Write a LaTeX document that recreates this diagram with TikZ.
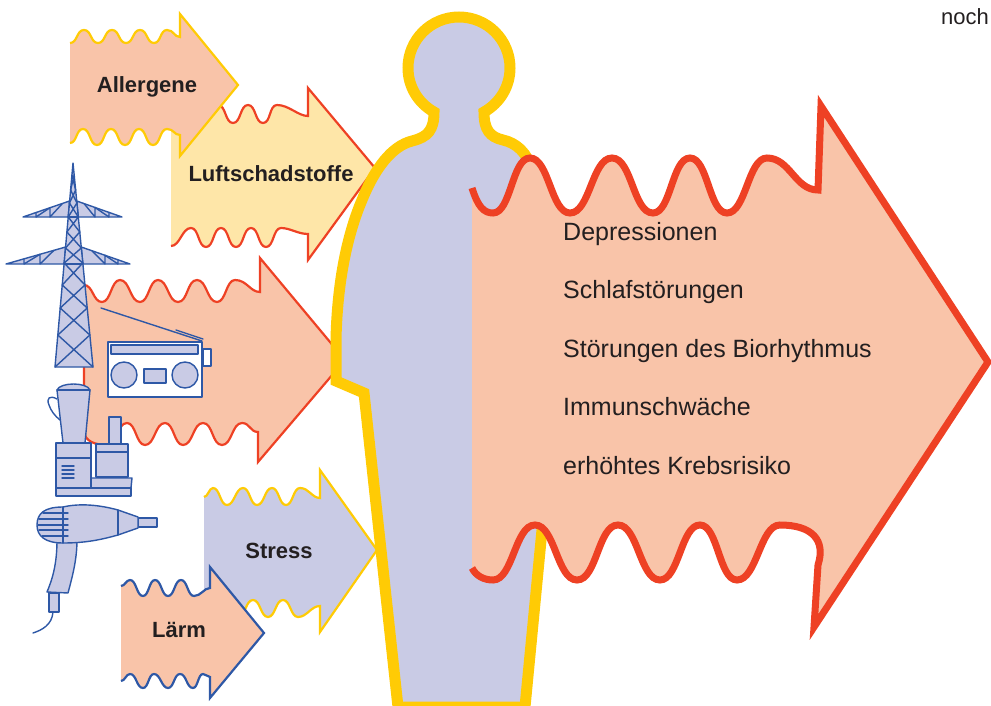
\documentclass[tikz,border=0pt]{standalone}
\usepackage{fontspec}
\setmainfont{Liberation Sans}
\definecolor{salmon}{HTML}{F9C4A9}
\definecolor{paleyellow}{HTML}{FEE6A8}
\definecolor{lavender}{HTML}{C9CBE5}
\definecolor{sunyellow}{HTML}{FFCB05}
\definecolor{signalred}{HTML}{EE4124}
\definecolor{iconblue}{HTML}{2E58A6}
\definecolor{ink}{HTML}{231F20}
\begin{document}
\begin{tikzpicture}[x=1pt,y=-1pt,
  thin outline/.style={line width=2.2pt, line join=miter, miter limit=10},
  thick outline/.style={line width=7pt, line join=miter, miter limit=10},
  body outline/.style={line width=11pt, line join=miter, miter limit=10},
  icon/.style={draw=iconblue, fill=lavender, line width=1.4pt, line join=round},
  iconline/.style={draw=iconblue, line width=1.4pt, line cap=round},
  cause/.style={font=\bfseries\fontsize{22}{26}\selectfont, text=ink, inner sep=0pt, anchor=base},
  effect/.style={font=\fontsize{25}{30}\selectfont, text=ink, inner sep=0pt, anchor=base west}]
\useasboundingbox (0,0) rectangle (991,706);

% ---- Luftschadstoffe (open left edge: fill closes it, stroke does not)
\path[fill=paleyellow, draw=signalred, thin outline]
  (171,123) .. controls +(9,0) and +(-9,0) .. (188,105)
  .. controls +(8,0) and +(-8,0) .. (203,123)
  .. controls +(8,0) and +(-8,0) .. (218,105)
  .. controls +(8,0) and +(-8,0) .. (233,123)
  .. controls +(8,0) and +(-8,0) .. (248,105)
  .. controls +(8,0) and +(-8,0) .. (263,123)
  .. controls +(8,0) and +(-8,0) .. (277,105)
  .. controls +(12,0) and +(-10,0) .. (308,116)
  -- (308,88) -- (375,168) -- (308,260) -- (308,234)
  .. controls +(-10,0) and +(9,0) .. (281,228)
  .. controls +(-8,0) and +(8,0) .. (266,247)
  .. controls +(-8,0) and +(8,0) .. (251,228)
  .. controls +(-8,0) and +(8,0) .. (236,247)
  .. controls +(-8,0) and +(8,0) .. (221,228)
  .. controls +(-8,0) and +(8,0) .. (206,247)
  .. controls +(-8,0) and +(8,0) .. (191,228)
  .. controls +(-9,0) and +(9,0) .. (171,246);
\node[cause] (luft) at (271,182) {Luftschadstoffe};

% ---- Allergene
\path[fill=salmon, draw=sunyellow, thin outline]
  (70,43) .. controls +(7.5,0) and +(-7.5,0) .. (84,30)
  .. controls +(7.5,0) and +(-7.5,0) .. (98,43)
  .. controls +(7.5,0) and +(-7.5,0) .. (112,30)
  .. controls +(7.5,0) and +(-7.5,0) .. (126,43)
  .. controls +(7.5,0) and +(-7.5,0) .. (140,30)
  .. controls +(7.5,0) and +(-7.5,0) .. (154,43)
  .. controls +(7,0) and +(-7,0) .. (167,30)
  .. controls +(7,0) and +(-6,0) .. (180,37)
  -- (180,14) -- (238,85) -- (180,156) -- (180,135)
  .. controls +(-6,0) and +(7,0) .. (167,129)
  .. controls +(-7.5,0) and +(7.5,0) .. (153,145)
  .. controls +(-7.5,0) and +(7.5,0) .. (139,129)
  .. controls +(-7.5,0) and +(7.5,0) .. (125,145)
  .. controls +(-7.5,0) and +(7.5,0) .. (111,129)
  .. controls +(-7.5,0) and +(7.5,0) .. (97,145)
  .. controls +(-7.5,0) and +(7.5,0) .. (83,129)
  .. controls +(-7,0) and +(7,0) .. (70,143);
\node[cause] (allergene) at (147,93) {Allergene};

% ---- electrosmog arrow (closed, with stroked left edge)
\path[fill=salmon, draw=signalred, thin outline]
  (84,285) .. controls +(9,0) and +(-9,0) .. (102,302)
  .. controls +(9,0) and +(-9,0) .. (120,280)
  .. controls +(10,0) and +(-10,0) .. (140,302)
  .. controls +(9,0) and +(-9,0) .. (158,280)
  .. controls +(10,0) and +(-10,0) .. (178,302)
  .. controls +(10,0) and +(-10,0) .. (197,280)
  .. controls +(10,0) and +(-10,0) .. (217,302)
  .. controls +(9,0) and +(-9,0) .. (235,280)
  .. controls +(12,0) and +(-10,0) .. (260,292)
  -- (260,258) -- (345,360) -- (258,462) -- (258,432)
  .. controls +(-8,0) and +(8,0) .. (242,423)
  .. controls +(-10,0) and +(10,0) .. (222,445)
  .. controls +(-10,0) and +(10,0) .. (203,423)
  .. controls +(-10,0) and +(10,0) .. (183,445)
  .. controls +(-9,0) and +(9,0) .. (165,423)
  .. controls +(-10,0) and +(10,0) .. (145,445)
  .. controls +(-9,0) and +(9,0) .. (127,423)
  .. controls +(-10,0) and +(10,0) .. (108,445)
  .. controls (96,445) and (84,442) .. (84,430) -- cycle;

% ---- radio
\draw[iconline] (101,308) -- (202,341);
\draw[iconline] (176,330) -- (203,339);
\draw[icon, fill=white] (108,342) rectangle (202,397);
\draw[icon] (111,345) rectangle (198,354);
\draw[icon] (124,375) circle[radius=13];
\draw[icon] (185,375) circle[radius=13];
\draw[icon] (144,369) rectangle (166,383);
\draw[icon, fill=white] (203,349) rectangle (211,366);

% ---- pylon
\draw[icon] (69.6,201) -- (23,217) -- (68.2,217) -- cycle;
\draw[icon] (76.7,201) -- (122,217) -- (78.3,217) -- cycle;
\draw[icon] (65.6,247) -- (6,264) -- (64.1,264) -- cycle;
\draw[icon] (81.2,247) -- (130,264) -- (82.9,264) -- cycle;
\draw[iconline] (50,217) -- (50,207.7) (36,217) -- (36,212.5)
  (50,217) -- (62,204) (36,217) -- (50,207.7)
  (95,217) -- (95,207.5) (109,217) -- (109,212.4)
  (95,217) -- (84,203.5) (109,217) -- (95,207.5);
\draw[iconline] (40,264) -- (40,254.3) (24,264) -- (24,258.9)
  (40,264) -- (54,250.3) (24,264) -- (40,254.3)
  (105,264) -- (105,255.3) (118,264) -- (118,259.8)
  (105,264) -- (92,250.8) (118,264) -- (105,255.3);
\draw[icon] (73,163) -- (93,367) -- (55,367) -- cycle;
\foreach \a/\b in {175/190,190/203,203/217,217/232,232/248,248/263,263/285,285/308,308/335,335/367}
  \draw[iconline]
    ({73-18*(\a-163)/204},\a) -- ({73+20*(\b-163)/204},\b)
    ({73+20*(\a-163)/204},\a) -- ({73-18*(\b-163)/204},\b);
\draw[iconline] ({73-18*(217-163)/204},217) -- ({73+20*(217-163)/204},217)
  ({73-18*(264-163)/204},264) -- ({73+20*(264-163)/204},264);

% ---- blender and food processor
\draw[iconline, line cap=butt] (57,399) .. controls (50,395) and (46,398) .. (49,405)
  .. controls (51,411) and (55,416) .. (60,420);
\draw[icon] (57,390) .. controls (60,382) and (87,382) .. (90,390) -- (85,443) -- (63,443) -- cycle;
\draw[iconline] (57,390) -- (90,390);
\draw[icon] (91,478) -- (132,478) -- (131,488) -- (91,488) -- cycle;
\draw[icon] (56,443) rectangle (91,488);
\draw[iconline] (56,458) -- (91,458);
\draw[icon] (56,488) rectangle (131,496);
\foreach \y in {466,470,474,478} \draw[iconline] (62,\y) -- (74,\y);
\draw[icon] (109,417) rectangle (121,444);
\draw[icon] (96,444) rectangle (128,477);
\draw[iconline] (96,452) -- (128,452);

% ---- hair dryer
\draw[iconline] (53,612) .. controls (52,625) and (42,630) .. (33,633);
\draw[icon] (49,593) rectangle (59,612);
\draw[icon] (57,540) .. controls (57,565) and (52,580) .. (47,592) -- (68,593)
  .. controls (72,578) and (77,560) .. (77,540) -- cycle;
\draw[icon] (138,518) rectangle (157,527);
\draw[icon] (63,507) .. controls (80,503) and (100,505) .. (118,510) -- (138,517) -- (138,528) -- (118,535)
  .. controls (100,540) and (85,543) .. (63,543)
  .. controls (45,543) and (37,536) .. (37,525)
  .. controls (37,513) and (45,507) .. (63,507) -- cycle;
\draw[iconline] (63,507) -- (63,543) (118,510) -- (118,535);
\draw[iconline] (43,513) -- (68,513) (39,519) -- (68,519) (38,525) -- (68,525)
  (39,530) -- (68,530) (42,536) -- (68,536);

% ---- Stress
\path[fill=lavender, draw=sunyellow, thin outline]
  (204,497) .. controls +(4,0) and +(-4,0) .. (213,488)
  .. controls +(7,0) and +(-7,0) .. (227,505)
  .. controls +(7.5,0) and +(-7.5,0) .. (243,488)
  .. controls +(7,0) and +(-7,0) .. (257,505)
  .. controls +(7.5,0) and +(-7.5,0) .. (272,488)
  .. controls +(7,0) and +(-7,0) .. (286,505)
  .. controls +(7,0) and +(-7,0) .. (300,488)
  .. controls +(9,0) and +(-8,0) .. (320,498)
  -- (320,470) -- (377,550) -- (320,632) -- (320,606)
  .. controls +(-9,0) and +(9,0) .. (298,617)
  .. controls +(-7.5,0) and +(7.5,0) .. (283,600)
  .. controls +(-7.5,0) and +(7.5,0) .. (268,617)
  .. controls +(-7.5,0) and +(7.5,0) .. (253,600)
  .. controls +(-7.5,0) and +(7.5,0) .. (238,617)
  .. controls +(-7.5,0) and +(7.5,0) .. (223,600)
  .. controls +(-7,0) and +(7,0) .. (209,617)
  .. controls +(-2,0) and +(1,0) .. (204,612);
\node[cause] (stress) at (279,558) {Stress};

% ---- Lärm
\path[fill=salmon, draw=iconblue, thin outline]
  (121,586) .. controls +(4,0) and +(-4,0) .. (130,580)
  .. controls +(6.5,0) and +(-6.5,0) .. (143,596)
  .. controls +(6,0) and +(-6,0) .. (155,580)
  .. controls +(6.5,0) and +(-6.5,0) .. (168,596)
  .. controls +(6.5,0) and +(-6.5,0) .. (181,580)
  .. controls +(6.5,0) and +(-6.5,0) .. (194,596)
  .. controls +(7,0) and +(-6,0) .. (210,588)
  -- (210,567) -- (264,633) -- (210,698) -- (210,677)
  .. controls +(-3,0) and +(3.5,0) .. (203,674)
  .. controls +(-5,0) and +(5,0) .. (193,688)
  .. controls +(-6.5,0) and +(6.5,0) .. (180,674)
  .. controls +(-6,0) and +(6,0) .. (168,688)
  .. controls +(-6.5,0) and +(6.5,0) .. (154,674)
  .. controls +(-5.5,0) and +(5.5,0) .. (143,688)
  .. controls +(-6.5,0) and +(6.5,0) .. (130,674)
  .. controls +(-4,0) and +(4,0) .. (121,681);
\node[cause] (laerm) at (179,637) {Lärm};

% ---- human figure
\path[fill=lavender, draw=sunyellow, body outline]
  (398,707) -- (364,393) -- (336,381) -- (336,340)
  .. controls (337,290) and (345,240) .. (362,200)
  .. controls (375,168) and (392,146) .. (412,141)
  .. controls (428,137) and (434,130) .. (434,112)
  .. controls (418,103) and (408,86.4) .. (408,68)
  .. controls (408,39.8) and (430.8,17) .. (459,17)
  .. controls (487.2,17) and (510,39.8) .. (510,68)
  .. controls (510,86.4) and (500,103) .. (484,112)
  .. controls (484,130) and (490,137) .. (503,140)
  .. controls (516,143) and (527,152) .. (532,170)
  -- (545,230) -- (552,480) -- (542,530) -- (525,707) -- cycle;

% ---- effects arrow
\path[fill=salmon, draw=signalred, thick outline]
  (472,188) .. controls (478,207) and (484,213) .. (493,213)
  .. controls +(18,0) and +(-18,0) .. (530,158)
  .. controls +(19,0) and +(-19,0) .. (570,213)
  .. controls +(20,0) and +(-20,0) .. (612,158)
  .. controls +(20,0) and +(-20,0) .. (653,213)
  .. controls +(18,0) and +(-18,0) .. (690,158)
  .. controls +(18,0) and +(-18,0) .. (727,213)
  .. controls +(19,0) and +(-19,0) .. (767,158)
  .. controls (790,158) and (795,190) .. (818,190)
  -- (821,106) -- (988,362) -- (814,627) -- (818,565)
  .. controls (826,540) and (812,525) .. (780,525)
  .. controls +(-20,0) and +(20,0) .. (737,580)
  .. controls +(-18,0) and +(18,0) .. (700,525)
  .. controls +(-19,0) and +(19,0) .. (660,580)
  .. controls +(-20,0) and +(20,0) .. (618,525)
  .. controls +(-20,0) and +(20,0) .. (577,580)
  .. controls +(-20,0) and +(20,0) .. (535,525)
  .. controls +(-20,0) and +(20,0) .. (493,580)
  .. controls (484,580) and (476,576) .. (472,568);

\node[effect] (e1) at (563,240) {Depressionen};
\node[effect] (e2) at (563,298.5) {Schlafstörungen};
\node[effect] (e3) at (563,357) {Störungen des Biorhythmus};
\node[effect] (e4) at (563,415.5) {Immunschwäche};
\node[effect] (e5) at (563,474) {erhöhtes Krebsrisiko};

\node[effect, anchor=base east, font=\fontsize{22}{26}\selectfont] (noch) at (989,25) {noch};
\end{tikzpicture}
\end{document}
